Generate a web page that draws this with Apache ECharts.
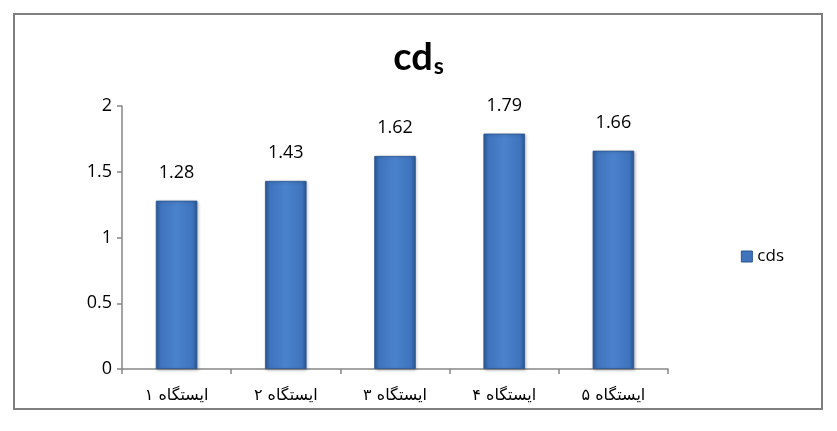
<!DOCTYPE html>
<html>
<head>
<meta charset="utf-8">
<script src="https://cdn.jsdelivr.net/npm/echarts@6/dist/echarts.min.js"></script>
<style>
  html, body { margin: 0; padding: 0; background: #fff; }
  #chart { width: 837px; height: 431px; }
</style>
</head>
<body>
<div id="chart"></div>
<script>
// Station names and the cds value measured at each station
const categories = ['ایستگاه ۱', 'ایستگاه ۲', 'ایستگاه ۳', 'ایستگاه ۴', 'ایستگاه ۵'];
const cdsValues = [1.28, 1.43, 1.62, 1.79, 1.66];
const seriesName = 'cds';
const yTicks = { min: 0, max: 2, interval: 0.5 };

const latinFont = '"Open Sans", Lato, sans-serif';
const persianFont = '"DejaVu Sans", sans-serif';

// bevelled blue fill for the bars
const barFill = new echarts.graphic.LinearGradient(0, 0, 1, 0, [
  { offset: 0, color: '#2d5b98' },
  { offset: 0.12, color: '#3f74bd' },
  { offset: 0.5, color: '#4a82cc' },
  { offset: 0.88, color: '#3f74bd' },
  { offset: 1, color: '#2a5591' }
]);

const chart = echarts.init(document.getElementById('chart'), null, { renderer: 'canvas' });
chart.setOption({
  backgroundColor: '#ffffff',
  animation: false,
  graphic: [{
    type: 'rect',
    shape: { x: 14, y: 14, width: 808, height: 395 },
    style: { fill: 'none', stroke: '#7f7f7f', lineWidth: 2 },
    silent: true
  }],
  title: {
    text: '{m|cd}{s|s}',
    left: 'center',
    top: 34,
    textStyle: {
      rich: {
        m: { fontFamily: 'Lato, sans-serif', fontWeight: 'bold', fontSize: 38, color: '#000', verticalAlign: 'bottom' },
        s: { fontFamily: 'Lato, sans-serif', fontWeight: 'bold', fontSize: 23, color: '#000', padding: [0, 0, -17, 1] }
      }
    }
  },
  legend: {
    right: 48,
    top: 243,
    orient: 'vertical',
    itemWidth: 11,
    itemHeight: 11,
    itemGap: 6,
    icon: 'rect',
    textStyle: { fontFamily: latinFont, fontSize: 17, color: '#000' },
    data: [{ name: seriesName, itemStyle: { color: '#3f74bd', borderColor: '#2a5591', borderWidth: 1 } }]
  },
  grid: { left: 122, right: 169, top: 106, bottom: 62, containLabel: false },
  xAxis: {
    type: 'category',
    data: categories,
    axisLine: { show: true, lineStyle: { color: '#868686', width: 1.5 } },
    axisTick: { show: true, inside: false, length: 5, alignWithLabel: false, lineStyle: { color: '#868686', width: 1.5 } },
    axisLabel: { fontFamily: persianFont, fontSize: 16, color: '#000', margin: 19 }
  },
  yAxis: {
    type: 'value',
    min: yTicks.min,
    max: yTicks.max,
    interval: yTicks.interval,
    axisLine: { show: true, lineStyle: { color: '#868686', width: 1.5 } },
    axisTick: { show: true, inside: false, length: 5, lineStyle: { color: '#868686', width: 1.5 } },
    splitLine: { show: false },
    axisLabel: { fontFamily: latinFont, fontSize: 18, color: '#000', margin: 10 }
  },
  series: [{
    name: seriesName,
    type: 'bar',
    data: cdsValues,
    barWidth: '38%',
    itemStyle: {
      color: barFill,
      borderColor: '#2a5591',
      borderWidth: 0.8,
      shadowColor: 'rgba(0,0,0,0.25)',
      shadowBlur: 3,
      shadowOffsetX: 1,
      shadowOffsetY: 1
    },
    label: {
      show: true,
      position: 'top',
      distance: 19,
      fontFamily: latinFont,
      fontSize: 18,
      color: '#000',
      formatter: p => p.value.toFixed(2)
    }
  }]
});
</script>
</body>
</html>
